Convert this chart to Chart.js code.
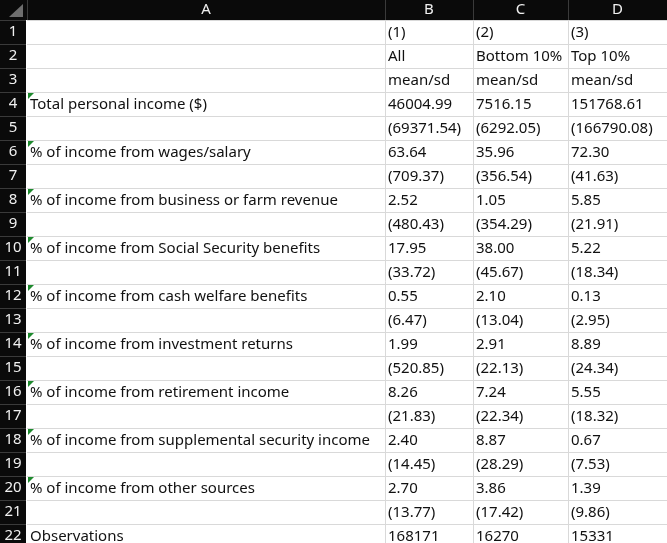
<!DOCTYPE html>
<html><head><meta charset="utf-8">
<script src="https://cdn.jsdelivr.net/npm/chart.js@4"></script>
<style>html,body{margin:0;padding:0;background:#fff}#wrap{width:667px;height:543px}</style>
</head><body><div id="wrap"><canvas id="sheet"></canvas></div>
<script>
const columnLetters = ["A", "B", "C", "D"];
const headerRows = [["", "(1)", "(2)", "(3)"], ["", "All", "Bottom 10%", "Top 10%"], ["", "mean/sd", "mean/sd", "mean/sd"]];
const labels = ["Total personal income ($)", "% of income from wages/salary", "% of income from business or farm revenue",
  "% of income from Social Security benefits", "% of income from cash welfare benefits", "% of income from investment returns",
  "% of income from retirement income", "% of income from supplemental security income", "% of income from other sources"];
const meanAll = ["46004.99", "63.64", "2.52", "17.95", "0.55", "1.99", "8.26", "2.40", "2.70"];
const sdAll = ["(69371.54)", "(709.37)", "(480.43)", "(33.72)", "(6.47)", "(520.85)", "(21.83)", "(14.45)", "(13.77)"];
const meanBottom = ["7516.15", "35.96", "1.05", "38.00", "2.10", "2.91", "7.24", "8.87", "3.86"];
const sdBottom = ["(6292.05)", "(356.54)", "(354.29)", "(45.67)", "(13.04)", "(22.13)", "(22.34)", "(28.29)", "(17.42)"];
const meanTop = ["151768.61", "72.30", "5.85", "5.22", "0.13", "8.89", "5.55", "0.67", "1.39"];
const sdTop = ["(166790.08)", "(41.63)", "(21.91)", "(18.34)", "(2.95)", "(24.34)", "(18.32)", "(7.53)", "(9.86)"];
const observations = ["Observations", "168171", "16270", "15331"];

// build the 22 rows of the sheet
const rows = headerRows.slice();
labels.forEach((l, i) => {
  rows.push([l, meanAll[i], meanBottom[i], meanTop[i]]);
  rows.push(["", sdAll[i], sdBottom[i], sdTop[i]]);
});
rows.push(observations);

const colEdges = [0, 27, 385, 473, 568, 667];
const headerH = 20, rowH = 24;

const sheetPlugin = {
  id: "sheet",
  afterDraw(chart) {
    const { ctx, scales: { x, y } } = chart;
    const px = (v) => x.getPixelForValue(v), py = (v) => y.getPixelForValue(v);
    ctx.save();
    // grid lines
    ctx.strokeStyle = "#d9d9d9"; ctx.lineWidth = 1;
    for (let r = 0; r <= rows.length; r++) {
      const yy = Math.round(py(headerH + r * rowH)) + 0.5;
      ctx.beginPath(); ctx.moveTo(px(27), yy); ctx.lineTo(px(667), yy); ctx.stroke();
    }
    colEdges.slice(2, 5).forEach((e) => {
      const xx = Math.round(px(e)) + 0.5;
      ctx.beginPath(); ctx.moveTo(xx, py(headerH)); ctx.lineTo(xx, py(543)); ctx.stroke();
    });
    // headers
    ctx.fillStyle = "#0a0a0a";
    ctx.fillRect(px(0), py(0), px(667) - px(0), py(headerH) - py(0));
    ctx.fillRect(px(0), py(0), px(26) - px(0), py(543) - py(0));
    ctx.strokeStyle = "#3a3a3a";
    colEdges.slice(1, 5).forEach((e) => {
      const xx = Math.round(px(e)) + 0.5;
      ctx.beginPath(); ctx.moveTo(xx, py(0)); ctx.lineTo(xx, py(headerH)); ctx.stroke();
    });
    for (let r = 0; r <= rows.length; r++) {
      const yy = Math.round(py(headerH + r * rowH)) + 0.5;
      ctx.beginPath(); ctx.moveTo(px(0), yy); ctx.lineTo(px(26), yy); ctx.stroke();
    }
    ctx.fillStyle = "#6e6e6e";
    ctx.beginPath(); ctx.moveTo(px(23), py(4)); ctx.lineTo(px(23), py(17)); ctx.lineTo(px(9), py(17)); ctx.closePath(); ctx.fill();
    ctx.font = "15px 'Noto Sans'"; ctx.textBaseline = "middle"; ctx.textAlign = "center";
    ctx.fillStyle = "#f0f0f0";
    columnLetters.forEach((c, i) => ctx.fillText(c, (px(colEdges[i + 1]) + px(colEdges[i + 2])) / 2, py(headerH / 2)));
    rows.forEach((_, r) => ctx.fillText(String(r + 1), px(13), py(headerH + r * rowH + rowH / 2)));
    // cells
    ctx.textAlign = "left"; ctx.fillStyle = "#111";
    rows.forEach((row, r) => {
      const cy = py(headerH + r * rowH + rowH / 2 + 1);
      row.forEach((txt, c) => { if (txt) ctx.fillText(txt, px(colEdges[c + 1] + 3), cy); });
      if (row[0] && r >= 3 && r < 21) {
        ctx.fillStyle = "#1e8a2e";
        const x0 = px(28), y0 = py(headerH + r * rowH + 1);
        ctx.beginPath(); ctx.moveTo(x0, y0); ctx.lineTo(x0 + 6, y0); ctx.lineTo(x0, y0 + 6); ctx.closePath(); ctx.fill();
        ctx.fillStyle = "#111";
      }
    });
    ctx.restore();
  }
};

new Chart(document.getElementById("sheet"), {
  type: "scatter",
  data: { datasets: [{ data: [] }] },
  options: {
    responsive: true, maintainAspectRatio: false, animation: false,
    layout: { padding: 0 },
    plugins: { legend: { display: false }, tooltip: { enabled: false } },
    scales: {
      x: { type: "linear", min: 0, max: 667, display: false },
      y: { type: "linear", min: 0, max: 543, reverse: true, display: false }
    }
  },
  plugins: [sheetPlugin]
});
</script></body></html>
